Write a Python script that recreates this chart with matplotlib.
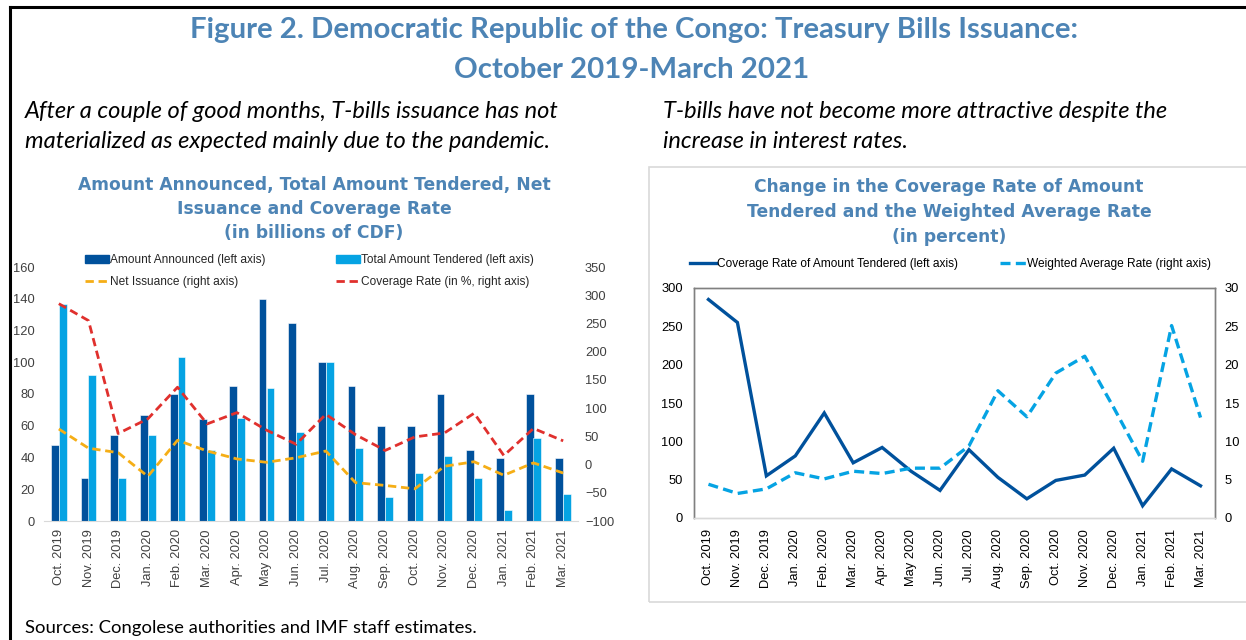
import numpy as np
import matplotlib
matplotlib.use("Agg")
import matplotlib.pyplot as plt
from matplotlib.patches import Patch, Rectangle
from matplotlib.lines import Line2D

# data
months = ["Oct. 2019", "Nov. 2019", "Dec. 2019", "Jan. 2020", "Feb. 2020", "Mar. 2020",
          "Apr. 2020", "May 2020", "Jun. 2020", "Jul. 2020", "Aug. 2020", "Sep. 2020",
          "Oct. 2020", "Nov. 2020", "Dec. 2020", "Jan. 2021", "Feb. 2021", "Mar. 2021"]
announced = [48, 27, 54, 67, 80, 64, 85, 140, 125, 100, 85, 60, 60, 80, 45, 40, 80, 40]
tendered = [137, 92, 27, 54, 103, 45, 65, 84, 56, 100, 46, 15, 30, 41, 27, 7, 52, 17]
net_issuance = [63, 29, 21, -21, 43, 24, 10, 4, 12, 24, -32, -37, -43, -3, 5, -19, 3, -15]
coverage_rate = [285, 255, 55, 81, 137, 72, 92, 61, 36, 89, 53, 25, 49, 56, 91, 16, 64, 42]
weighted_rate = [4.4, 3.2, 3.8, 5.9, 5.1, 6.1, 5.8, 6.5, 6.5, 9.4, 16.6, 13.2, 18.9, 21.1, 14.4, 7.4, 25.1, 13.1]

DARK_BLUE = "#00519C"
LIGHT_BLUE = "#05A3E3"
GOLD = "#F5AE16"
RED = "#E0302D"
TITLE_BLUE = "#4D84B5"
TICK = "#404040"

fig = plt.figure(figsize=(12.46, 6.4), dpi=100)
W, H = 1246, 640

def fx(px):
    return px / W

def fy(py):
    return 1 - py / H

# frame lines of the page box
fig.add_artist(Line2D([fx(10), 1], [fy(7), fy(7)], color="black", lw=2.2, transform=fig.transFigure))
fig.add_artist(Line2D([fx(10), fx(10)], [fy(7), 0], color="black", lw=2.2, transform=fig.transFigure))
# light frame around the right chart
fig.add_artist(Rectangle((fx(649), fy(602)), 1.0, fy(167) - fy(602), fill=False,
                         edgecolor="#D9D9D9", lw=1.2, transform=fig.transFigure))

title_font = dict(family="Lato", weight="bold", color=TITLE_BLUE, size=21.2)
fig.text(fx(634), fy(30), "Figure 2. Democratic Republic of the Congo: Treasury Bills Issuance:",
         ha="center", va="center", **title_font)
fig.text(fx(632), fy(70), "October 2019-March 2021", ha="center", va="center", **title_font)

sub_font = dict(family="Lato", style="italic", size=17.0, color="black")
fig.text(fx(25), fy(112), "After a couple of good months, T-bills issuance has not", va="center", **sub_font)
fig.text(fx(25), fy(142), "materialized as expected mainly due to the pandemic.", va="center", **sub_font)
fig.text(fx(663), fy(112), "T-bills have not become more attractive despite the", va="center", **sub_font)
fig.text(fx(663), fy(142), "increase in interest rates.", va="center", **sub_font)

fig.text(fx(25), fy(628), "Sources: Congolese authorities and IMF staff estimates.",
         family="Lato", size=13.3, va="center")

x = np.arange(len(months))
dash_l = (0, (3.0, 1.7))
dash_r = (0, (3.0, 1.6))

# ---------------- left chart ----------------
ax1 = fig.add_axes([fx(44), fy(521), fx(578) - fx(44), fy(267) - fy(521)])
bw = 0.26
ax1.bar(x - bw / 2, announced, bw, color=DARK_BLUE, edgecolor="white", linewidth=0.4)
ax1.bar(x + bw / 2, tendered, bw, color=LIGHT_BLUE, edgecolor="white", linewidth=0.4)
ax1.set_xlim(-0.5, len(months) - 0.5)
ax1.set_ylim(0, 160)
ax1.set_yticks(range(0, 161, 20))
ax1.set_xticks(x)
ax1.set_xticklabels(months, rotation=90, family="Liberation Sans", size=11, color=TICK)

ax1r = ax1.twinx()
ax1r.plot(x, net_issuance, color=GOLD, lw=2.0, ls=dash_l)
ax1r.plot(x, coverage_rate, color=RED, lw=2.0, ls=dash_l)
ax1r.set_ylim(-100, 350)
ax1r.set_yticks(range(-100, 351, 50))

for a in (ax1, ax1r):
    for s in a.spines.values():
        s.set_visible(False)
    a.tick_params(length=0, labelsize=9.3, labelcolor=TICK)
    for lab in a.get_yticklabels():
        lab.set_family("Liberation Sans")
ax1.spines["bottom"].set_visible(True)
ax1.spines["bottom"].set_color("#D9D9D9")
ax1.tick_params(axis="y", pad=6.5)
ax1r.tick_params(axis="y", pad=5)
ax1.tick_params(axis="x", pad=6)
ax1.set_zorder(ax1r.get_zorder() - 1)
ax1r.patch.set_visible(False)

ctitle = dict(family="DejaVu Sans", weight="bold", color=TITLE_BLUE, size=12.3, ha="center", va="center")
fig.text(fx(314), fy(185), "Amount Announced, Total Amount Tendered, Net", **ctitle)
fig.text(fx(314), fy(209), "Issuance and Coverage Rate", **ctitle)
fig.text(fx(314), fy(233), "(in billions of CDF)", **ctitle)

leg_kw = dict(frameon=False, prop={"family": "Liberation Sans", "size": 8.6},
              handlelength=2.0, handletextpad=0.1, labelspacing=0.85, borderpad=0, borderaxespad=0)
l1 = fig.legend([Patch(color=DARK_BLUE), Line2D([], [], color=GOLD, lw=2.0, ls=dash_l)],
                ["Amount Announced (left axis)", "Net Issuance (right axis)"],
                loc="upper left", bbox_to_anchor=(fx(85), fy(254)), **leg_kw)
l2 = fig.legend([Patch(color=LIGHT_BLUE), Line2D([], [], color=RED, lw=2.0, ls=dash_l)],
                ["Total Amount Tendered (left axis)", "Coverage Rate (in %, right axis)"],
                loc="upper left", bbox_to_anchor=(fx(336), fy(254)), **leg_kw)
for lg in (l1, l2):
    for t in lg.get_texts():
        t.set_color("#262626")

# ---------------- right chart ----------------
ax2 = fig.add_axes([fx(694), fy(518), fx(1215) - fx(694), fy(288) - fy(518)])
ax2.plot(x, coverage_rate, color=DARK_BLUE, lw=2.4, solid_joinstyle="miter")
ax2.set_xlim(-0.5, len(months) - 0.5)
ax2.set_ylim(0, 300)
ax2.set_yticks(range(0, 301, 50))
ax2.set_xticks(x)
ax2.set_xticklabels(months, rotation=90, family="Liberation Sans", size=11, color="black")

ax2r = ax2.twinx()
ax2r.plot(x, weighted_rate, color=LIGHT_BLUE, lw=2.4, ls=dash_r)
ax2r.set_ylim(0, 30)
ax2r.set_yticks(range(0, 31, 5))

for a in (ax2, ax2r):
    for s in a.spines.values():
        s.set_color("#808080")
        s.set_linewidth(1.0)
    a.spines["bottom"].set_color("#D9D9D9")
    a.tick_params(length=0, labelsize=9.3, labelcolor="black")
    for lab in a.get_yticklabels():
        lab.set_family("Liberation Sans")
ax2.tick_params(axis="y", pad=8)
ax2r.tick_params(axis="y", pad=7)
ax2.tick_params(axis="x", pad=8)

fig.text(fx(949), fy(187), "Change in the Coverage Rate of Amount", **ctitle)
fig.text(fx(949), fy(212), "Tendered and the Weighted Average Rate", **ctitle)
fig.text(fx(949), fy(237), "(in percent)", **ctitle)

leg_kw2 = dict(frameon=False, prop={"family": "Liberation Sans", "size": 8.6},
               handlelength=2.2, handletextpad=0.1, borderpad=0, borderaxespad=0)
fig.legend([Line2D([], [], color=DARK_BLUE, lw=2.4)], ["Coverage Rate of Amount Tendered (left axis)"],
           loc="center left", bbox_to_anchor=(fx(690), fy(264)), **leg_kw2)
fig.legend([Line2D([], [], color=LIGHT_BLUE, lw=2.4, ls=dash_r)], ["Weighted Average Rate (right axis)"],
           loc="center left", bbox_to_anchor=(fx(1000), fy(264)), **leg_kw2)

fig.savefig("out.png", dpi=100)
